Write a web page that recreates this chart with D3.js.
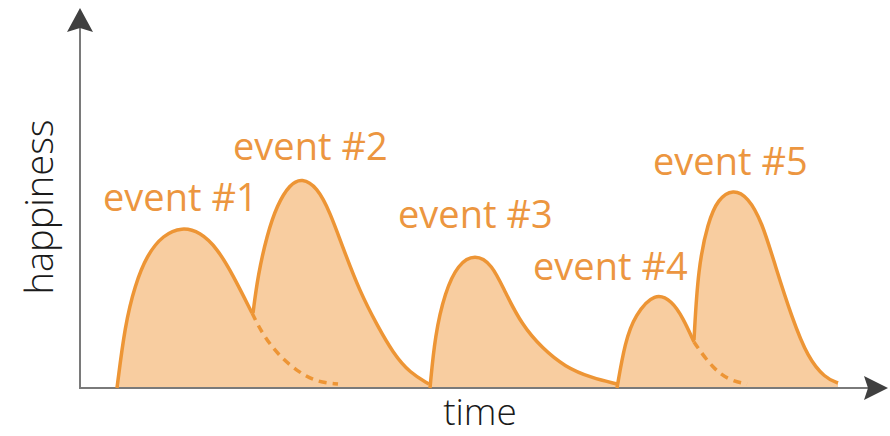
<!DOCTYPE html>
<html>
<head>
<meta charset="utf-8">
<script src="https://cdn.jsdelivr.net/npm/d3@7"></script>
<style>
  html, body { margin: 0; padding: 0; background: #fff; }
  svg { display: block; }
</style>
</head>
<body>
<div id="chart"></div>
<script>
// happiness over time — 5 events, each a rise then a slow fade

// [time, happiness]
const event1 = [[37,0],[45,63],[55,103],[67,133],[83,153],[102,161],[120,156],[137,140],[153,113],[172,75]];
const event1Tail = [[172,75],[173,73],[183,53],[200,31],[220,15],[237,6],[258,4]];
const event2 = [[173,75],[178,113],[187,153],[197,183],[210,204],[222,210],[237,201],[250,176],[263,140],[280,96],[297,63],[313,35],[330,15],[349,4]];
const event3 = [[350,0],[355,53],[365,96],[378,124],[395,134],[412,124],[425,96],[442,63],[462,40],[485,21],[512,10],[537,4]];
const event4 = [[537,0],[545,46],[555,73],[575,96],[592,87],[603,70],[614,46]];
const event4Tail = [[614,46],[618,40],[632,21],[648,8],[667,4]];
const event5 = [[614,48],[618,120],[628,166],[638,189],[653,199],[668,191],[682,166],[695,123],[712,70],[728,30],[745,10],[758,5]];

const eventNames = ["event #1", "event #2", "event #3", "event #4", "event #5"];
// label anchor (left x, baseline) in data units
const labelPos = [[23,177],[153,228],[318,160],[453,108],[573,213]];

const W = 890, H = 436;
const ORANGE = "#ED9535", FILL = "#F8CDA0", TXT = "#EC9640";

const x = d3.scaleLinear().domain([0, 808]).range([80, 888]);
const y = d3.scaleLinear().domain([0, 380]).range([388, 8]);

const svg = d3.select("#chart").append("svg")
  .attr("width", W).attr("height", H);

const smooth = d3.curveBasis;
const line = d3.line().x(d => x(d[0])).y(d => y(d[1])).curve(smooth);
const area = d3.area().x(d => x(d[0])).y0(y(0)).y1(d => y(d[1])).curve(smooth);

// fills (full shapes, tails included)
const fills = [event1.concat(event1Tail.slice(1)), event2, event3, event4.concat(event4Tail.slice(1)), event5];
svg.selectAll(".fill").data(fills).enter().append("path")
  .attr("class", "fill")
  .attr("d", area)
  .attr("fill", FILL);

// axes with arrow heads
const x0 = x(0), y0 = y(0), xEnd = x(808), yTop = y(380);
svg.append("line")
  .attr("x1", x0).attr("y1", y0).attr("x2", x0).attr("y2", yTop + 20)
  .attr("stroke", "#7a7a7a").attr("stroke-width", 2);
svg.append("line")
  .attr("x1", x0 - 1).attr("y1", y0).attr("x2", xEnd - 20).attr("y2", y0)
  .attr("stroke", "#7a7a7a").attr("stroke-width", 2);
svg.append("path")
  .attr("d", `M${x0},${yTop} L${x0 + 13},${yTop + 24} L${x0},${yTop + 20} L${x0 - 13},${yTop + 24} Z`)
  .attr("fill", "#404040");
svg.append("path")
  .attr("d", `M${xEnd},${y0} L${xEnd - 24},${y0 + 12} L${xEnd - 20},${y0} L${xEnd - 24},${y0 - 12} Z`)
  .attr("fill", "#404040");

// solid curves
svg.selectAll(".curve").data([event1, event2, event3, event4, event5]).enter().append("path")
  .attr("class", "curve")
  .attr("d", line)
  .attr("fill", "none")
  .attr("stroke", ORANGE)
  .attr("stroke-width", 3.5)
  .attr("stroke-linejoin", "round");

// what would have happened without the next event
svg.selectAll(".tail").data([event1Tail, event4Tail]).enter().append("path")
  .attr("class", "tail")
  .attr("d", line)
  .attr("fill", "none")
  .attr("stroke", ORANGE)
  .attr("stroke-width", 3.5)
  .attr("stroke-dasharray", "8,6");

// labels
svg.selectAll(".lbl").data(eventNames).enter().append("text")
  .attr("class", "lbl")
  .attr("x", (d, i) => x(labelPos[i][0]))
  .attr("y", (d, i) => y(labelPos[i][1]))
  .attr("fill", TXT)
  .style("font-family", "'Open Sans', sans-serif")
  .style("font-size", "38px")
  .text(d => d);

svg.append("text")
  .attr("x", 480).attr("y", 425)
  .attr("text-anchor", "middle")
  .attr("fill", "#1a1a1a")
  .style("font-family", "'Open Sans', sans-serif")
  .style("font-size", "37px")
  .style("font-weight", 300)
  .text("time");

svg.append("text")
  .attr("transform", "translate(53,207) rotate(-90)")
  .attr("text-anchor", "middle")
  .attr("fill", "#1a1a1a")
  .style("font-family", "'Open Sans', sans-serif")
  .style("font-size", "38px")
  .style("font-weight", 300)
  .text("happiness");
</script>
</body>
</html>
